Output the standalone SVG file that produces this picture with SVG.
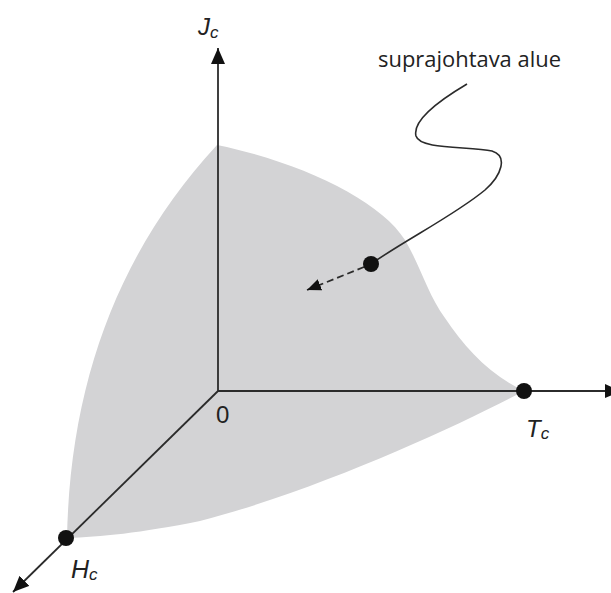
<svg xmlns="http://www.w3.org/2000/svg" width="611" height="593" viewBox="0 0 611 593">
<style>
.axis{stroke:#2b2b2b;stroke-width:1.8;fill:none}
.dot{fill:#111}
.lbl{font-family:"Liberation Sans",Arial,sans-serif;font-style:italic;fill:#222}
.sub{font-size:17px}
.note{font-family:"Open Sans","Noto Sans",sans-serif;font-size:21px;fill:#222}
</style>
<defs>
<marker id="ah" viewBox="0 0 16 14" refX="16" refY="7" markerWidth="16" markerHeight="14" markerUnits="userSpaceOnUse" orient="auto">
<path d="M0,0 L16,7 L0,14 z" fill="#111"/>
</marker>
<marker id="ahs" viewBox="0 0 14 12" refX="14" refY="6" markerWidth="14" markerHeight="12" markerUnits="userSpaceOnUse" orient="auto">
<path d="M0,0 L14,6 L0,12 z" fill="#111"/>
</marker>
</defs>
<rect width="611" height="593" fill="#fff"/>
<g id="region">
<path d="M217,145 C300,162 380,200 405,240 C420,265 428,295 445,318 C465,348 490,375 524,391 C460,425 320,490 200,521 C140,533 100,537 67,538 C70,380 120,250 217,145 Z" fill="#d3d3d5"/>
</g>
<g id="connectors">
<line class="axis" x1="218" y1="391" x2="218" y2="48" marker-end="url(#ah)"/>
<line class="axis" x1="218" y1="391" x2="621" y2="391" marker-end="url(#ah)"/>
<line class="axis" x1="218" y1="391" x2="13" y2="592" marker-end="url(#ah)"/>
<path class="axis" style="stroke-width:1.6" d="M467,84 C440,100 412,120 416,136 C420,150 470,146 492,151 C508,156 502,175 485,190 C455,215 405,240 371,264"/>
<line class="axis" style="stroke-dasharray:7,4;stroke-width:1.8" x1="364" y1="267" x2="307" y2="290" marker-end="url(#ahs)"/>
</g>
<g id="node-origin">
<text x="216" y="423" font-family="Liberation Sans,Arial,sans-serif" font-size="24" fill="#222">0</text>
</g>
<g id="node-Jc">
<text class="lbl" x="198" y="35" font-size="24">J<tspan class="sub" dy="3">c</tspan></text>
</g>
<g id="node-Tc">
<circle class="dot" cx="524" cy="391" r="8"/>
<text class="lbl" x="526" y="437" font-size="24">T<tspan class="sub" dy="2">c</tspan></text>
</g>
<g id="node-Hc">
<circle class="dot" cx="66" cy="538" r="8"/>
<text class="lbl" x="71" y="578" font-size="25">H<tspan class="sub" dy="2">c</tspan></text>
</g>
<g id="node-region-label">
<circle class="dot" cx="371" cy="264" r="8"/>
<text class="note" x="378" y="67" textLength="183" lengthAdjust="spacingAndGlyphs">suprajohtava alue</text>
</g>
</svg>
